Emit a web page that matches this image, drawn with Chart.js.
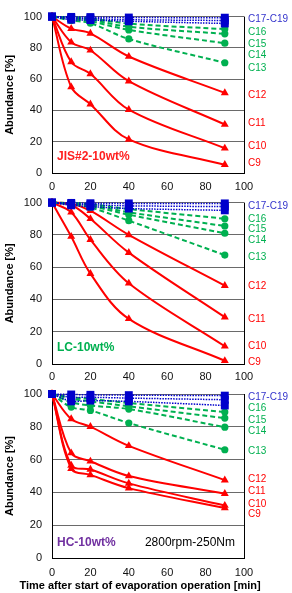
<!DOCTYPE html>
<html><head><meta charset="utf-8">
<script src="https://cdn.jsdelivr.net/npm/chart.js@4.4.1/dist/chart.umd.min.js"></script>
<style>
html,body{margin:0;padding:0;background:#fff;width:292px;height:593px;overflow:hidden;}
.p{position:absolute;left:0;width:292px;}
canvas{display:block;}
</style></head><body>
<div class="p" style="top:0px;height:196px"><canvas id="c1" width="292" height="196"></canvas></div>
<div class="p" style="top:186px;height:200px"><canvas id="c2" width="292" height="200"></canvas></div>
<div class="p" style="top:376px;height:217px"><canvas id="c3" width="292" height="217"></canvas></div>
<script>
// ---- data ----
const times = [0, 10, 20, 40, 90];
const seriesNames = ['C9','C10','C11','C12','C13','C14','C15','C16','C17','C18','C19'];
const xTicks = [0, 20, 40, 60, 80, 100];
const yTicks = [0, 20, 40, 60, 80, 100];

// JIS#2-10wt%  (rows: C9 ... C19, columns: times)
const jisValues = [
  [100, 55.0, 44.0, 21.5, 5.3],
  [100, 71.0, 63.4, 40.5, 15.8],
  [100, 83.6, 78.5, 58.7, 31.0],
  [100, 92.3, 89.3, 74.5, 51.2],
  [100, 97.5, 95.8, 85.7, 70.5],
  [100, 98.5, 97.0, 91.5, 83.0],
  [100, 99.0, 98.0, 93.5, 89.0],
  [100, 99.5, 98.8, 95.5, 92.0],
  [100, 99.8, 99.7, 99.4, 99.3],
  [100, 99.0, 98.8, 98.0, 97.5],
  [100, 98.0, 97.8, 97.0, 95.6]
];
// LC-10wt%
const lcValues = [
  [100, 79.0, 56.0, 28.0, 2.0],
  [100, 94.0, 77.0, 50.0, 11.0],
  [100, 98.5, 90.0, 69.0, 29.0],
  [100, 99.5, 95.0, 80.0, 48.5],
  [100, 99.0, 97.0, 88.8, 67.5],
  [100, 99.3, 98.0, 92.5, 81.0],
  [100, 99.5, 98.5, 94.0, 85.5],
  [100, 99.7, 99.0, 96.0, 90.0],
  [100, 99.8, 99.6, 99.5, 99.5],
  [100, 99.0, 98.7, 98.0, 97.5],
  [100, 98.3, 97.5, 96.3, 95.2]
];
// HC-10wt%
const hcValues = [
  [100, 54.5, 50.7, 42.6, 30.5],
  [100, 56.5, 54.0, 45.5, 32.0],
  [100, 64.0, 59.0, 50.0, 39.2],
  [100, 84.8, 80.1, 68.4, 47.5],
  [100, 92.0, 90.0, 82.3, 66.0],
  [100, 95.0, 93.0, 90.8, 79.8],
  [100, 97.0, 95.5, 92.5, 85.3],
  [100, 98.0, 97.0, 94.5, 89.0],
  [100, 99.7, 99.5, 99.3, 99.0],
  [100, 98.0, 98.0, 97.5, 96.5],
  [100, 95.5, 96.0, 95.5, 93.0]
];

const rightLabels = ['C9','C10','C11','C12','C13','C14','C15','C16','C17-C19'];
const jisLabelAt = [6.5, 17.4, 32, 49.9, 67, 75, 82.6, 89.7, 98];
const lcLabelAt  = [0.8, 10.8, 27.6, 48, 66, 76.5, 83.7, 89.4, 98];
const hcLabelAt  = [26.4, 33, 40.4, 48, 65.3, 77.3, 84, 91.5, 98];

// ---- styles ----
const RED = '#FF0000', GREEN = '#00B050', BLUE = '#0000CC';
const FONT = "Arial, 'Liberation Sans', sans-serif";
Chart.defaults.font.family = FONT;

function groupOf(i) { return i < 4 ? 'red' : (i < 8 ? 'green' : 'blue'); }

function buildDatasets(values) {
  return values.map((row, i) => {
    const g = groupOf(i);
    const base = {
      label: seriesNames[i],
      data: row.map((v, k) => ({ x: times[k], y: v })),
      clip: false,
      tension: 0.35,
      fill: false
    };
    if (g === 'red') return Object.assign(base, {
      borderColor: RED, backgroundColor: RED, borderWidth: 2,
      pointStyle: 'triangle', pointRadius: 4.6, pointBorderWidth: 0, order: 3
    });
    if (g === 'green') return Object.assign(base, {
      borderColor: GREEN, backgroundColor: GREEN, borderWidth: 2, borderDash: [5, 3],
      pointStyle: 'circle', pointRadius: 3.6, pointBorderWidth: 0, order: 2
    });
    return Object.assign(base, {
      borderColor: BLUE, backgroundColor: BLUE, borderWidth: 1.5, borderDash: [1.5, 1.2],
      pointStyle: 'rect', pointRadius: 5.6, pointBorderWidth: 0, order: 1, tension: 0.2
    });
  });
}

const labelColors = [RED, RED, RED, RED, GREEN, GREEN, GREEN, GREEN, '#3333CC'];

const annot = {
  id: 'annot',
  beforeDatasetsDraw(chart) {
    const { ctx, chartArea: a } = chart;
    ctx.save();
    ctx.strokeStyle = '#000';
    ctx.lineWidth = 1;
    const xr = Math.round(a.right) + 0.5;
    ctx.beginPath(); ctx.moveTo(xr, a.top); ctx.lineTo(xr, a.bottom); ctx.stroke();
    ctx.restore();
  },
  afterDraw(chart, args, opts) {
    const { ctx, chartArea: a, scales } = chart;
    const y = scales.y, x = scales.x;
    ctx.save();
    ctx.textBaseline = 'middle';
    ctx.textAlign = 'left';
    ctx.font = '10px ' + FONT;
    opts.labelAt.forEach((v, i) => {
      ctx.fillStyle = labelColors[i];
      ctx.fillText(rightLabels[i], a.right + 4, y.getPixelForValue(v));
    });
    ctx.font = 'bold 12px ' + FONT;
    ctx.fillStyle = opts.tagColor;
    ctx.fillText(opts.tag, a.left + 5, y.getPixelForValue(opts.tagAt));
    if (opts.note) {
      ctx.font = '12px ' + FONT;
      ctx.fillStyle = '#000';
      ctx.fillText(opts.note, x.getPixelForValue(opts.noteX), y.getPixelForValue(opts.tagAt));
    }
    if (opts.xTitle) {
      ctx.font = 'bold 11px ' + FONT;
      ctx.fillStyle = '#000';
      ctx.textAlign = 'center';
      ctx.fillText(opts.xTitle, 140, chart.height - 7);
    }
    ctx.restore();
  }
};

function makeChart(id, values, padTop, xAxisH, annotOpts, tickPad) {
  new Chart(document.getElementById(id), {
    type: 'line',
    data: { datasets: buildDatasets(values) },
    plugins: [annot],
    options: {
      responsive: false,
      animation: false,
      events: [],
      layout: { padding: { top: padTop, right: 48, left: 0, bottom: 0 } },
      plugins: { legend: { display: false }, tooltip: { enabled: false }, annot: annotOpts },
      scales: {
        x: {
          type: 'linear', min: 0, max: 100,
          afterFit(s) { s.height = xAxisH; },
          afterBuildTicks(s) { s.ticks = xTicks.map(v => ({ value: v })); },
          grid: { display: false, drawTicks: false },
          border: { display: true, color: '#000', width: 1 },
          ticks: { padding: tickPad, color: '#111', font: { size: 11 } }
        },
        y: {
          min: 0, max: 100,
          afterFit(s) { s.width = 52; },
          afterBuildTicks(s) { s.ticks = yTicks.map(v => ({ value: v })); },
          grid: { color: '#6a6a6a', lineWidth: 1, drawTicks: false },
          border: { display: true, color: '#000', width: 1 },
          ticks: { padding: 10, color: '#111', font: { size: 11 } },
          title: { display: true, text: 'Abundance [%]', color: '#000', font: { size: 11, weight: 'bold' }, padding: { top: 3, bottom: 0 } }
        }
      }
    }
  });
}

makeChart('c1', jisValues, 8, 23,
  { labelAt: jisLabelAt, tag: 'JIS#2-10wt%', tagColor: '#FF2020', tagAt: 10.5 }, 7);
makeChart('c2', lcValues, 15, 22,
  { labelAt: lcLabelAt, tag: 'LC-10wt%', tagColor: GREEN, tagAt: 10 }, 6);
makeChart('c3', hcValues, 18, 35,
  { labelAt: hcLabelAt, tag: 'HC-10wt%', tagColor: '#7030A0', tagAt: 9.2, note: '2800rpm-250Nm', noteX: 48.4,
    xTitle: 'Time after start of evaporation operation [min]' }, 8);
</script>
</body></html>
